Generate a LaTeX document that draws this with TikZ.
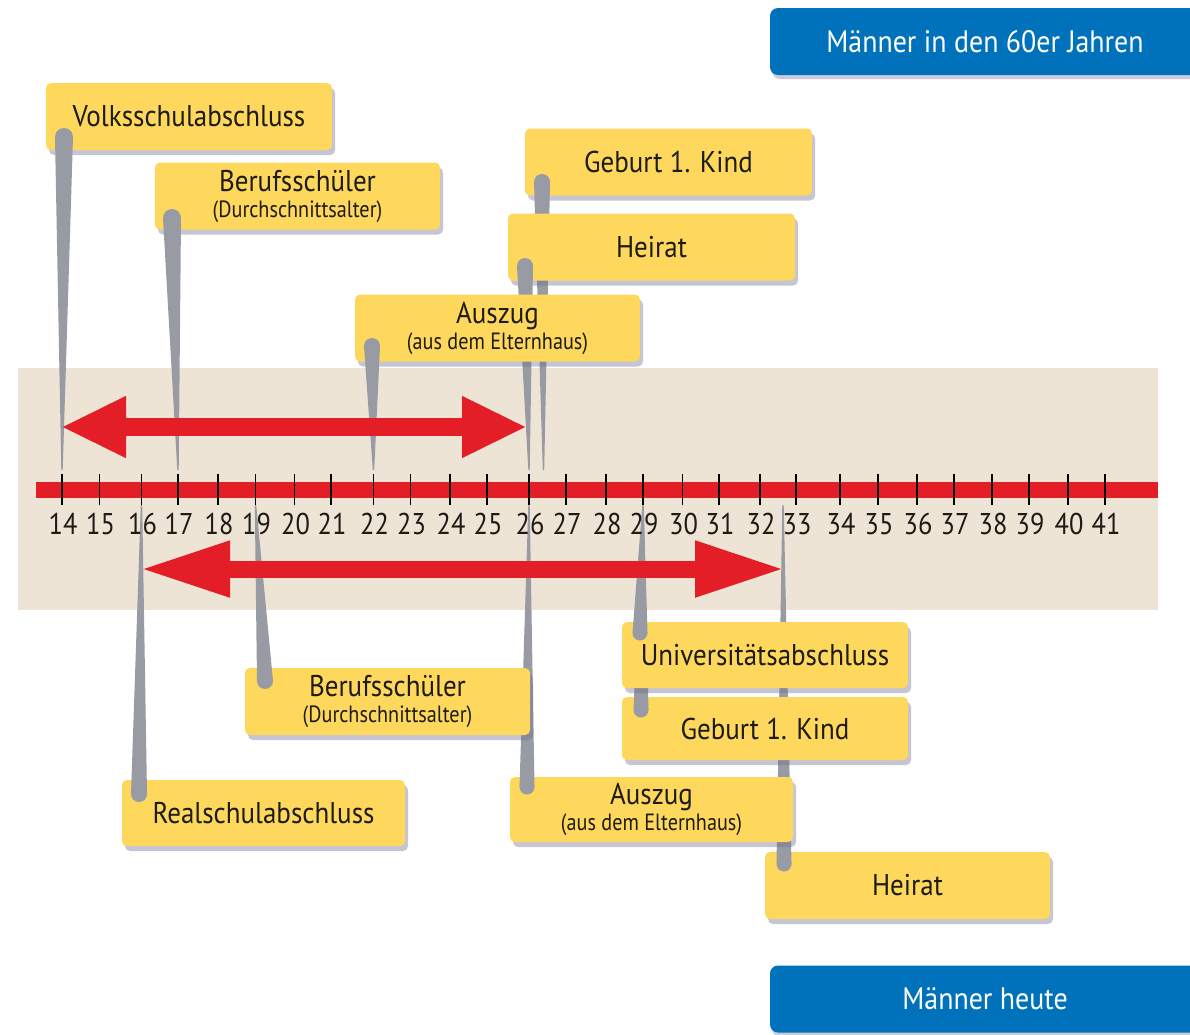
\documentclass[tikz,border=0pt]{standalone}
\usepackage{fontspec}
\setmainfont{PT Sans}[FakeStretch=0.9]
\newfontfamily\subfont{PT Sans}[FakeStretch=0.86]
\newfontfamily\numfont{PT Sans}[FakeStretch=0.88]
\usetikzlibrary{calc,shadows,arrows.meta}
\definecolor{bandc}{RGB}{238,228,213}
\definecolor{axisred}{RGB}{228,30,38}
\definecolor{boxyel}{RGB}{253,216,93}
\definecolor{pinc}{RGB}{152,154,164}
\definecolor{bluehd}{RGB}{0,114,188}
\definecolor{shadowc}{RGB}{110,110,145}
\definecolor{txt}{RGB}{30,27,20}
\newcommand\subfnt{\subfont\fontsize{23.5}{24}\selectfont}
\newcommand\drawpin[3]{\fill[pinc] let \p1=(#1), \p2=(#2) in (\x1-#3pt,\y1) -- (\x2-0.7pt,\y2) -- (\x2+0.7pt,\y2) -- (\x1+#3pt,\y1) -- cycle; \fill[pinc] (#1) circle[radius=#3pt];}
\tikzset{
  ybox/.style={fill=boxyel, rounded corners=5pt, minimum width=285pt, minimum height=67pt,
    inner sep=0pt, align=center, text=txt, font=\fontsize{30}{31}\selectfont,
    drop shadow={shadow xshift=3pt, shadow yshift=-5pt, fill=shadowc, opacity=0.4}},
  bluebox/.style={fill=bluehd, rounded corners=8pt, minimum width=430pt, minimum height=67pt,
    inner sep=0pt, text=white, font=\fontsize{31}{32}\selectfont,
    drop shadow={shadow xshift=2pt, shadow yshift=-4pt, fill=shadowc, opacity=0.35}},
  numlab/.style={inner sep=0pt, text=txt, font=\numfont\fontsize{30}{31}\selectfont},
  tickline/.style={draw=black, line width=1.6pt},
  redarrow/.style={draw=axisred, line width=18pt,
    {Triangle[length=65pt,width=57pt]}-{Triangle[length=65pt,width=57pt]}},
  redarrowlong/.style={draw=axisred, line width=17pt,
    {Triangle[length=90pt,width=52pt]}-{Triangle[length=90pt,width=52pt]}}
}
\begin{document}
\begin{tikzpicture}[x=1pt,y=-1pt]
\useasboundingbox (0,0) rectangle (1190,1034);
\clip (0,0) rectangle (1190,1034);
\fill[white] (0,0) rectangle (1190,1034);
\fill[bandc] (18,368) rectangle (1158,610);

% tick coordinates
\foreach \n/\x in {14/62,15/99.5,16/141.5,17/178,18/218,19/255.5,20/294.5,21/331,22/373.5,23/410.5,24/450,25/487,26/529,27/566,28/606,29/643,30/682.5,31/719,32/760,33/796,34/840,35/878,36/917,37/954,38/992,39/1029,40/1068,41/1105}{
  \coordinate (t\n) at (\x,490);
}

% ---------- upper callouts (Maenner in den 60er Jahren) ----------
\node[ybox, minimum width=286pt] (uvolks) at (189,116.5) {Volksschulabschluss};
\coordinate (uvolksP) at (64,137);
\coordinate (uvolksT) at ($(t14)+(0,-20)$);
\drawpin{uvolksP}{uvolksT}{9}

\node[ybox] (uberuf) at (297.5,196) {Berufsschüler\\[-5pt]{\subfnt (Durchschnittsalter)}};
\coordinate (uberufP) at (172,218);
\coordinate (uberufT) at ($(t17)+(0,-20)$);
\drawpin{uberufP}{uberufT}{9}

\node[ybox, minimum width=287pt] (ugeburt) at (668.5,162) {Geburt 1. Kind};
\coordinate (ugeburtP) at (542,182);
\coordinate (ugeburtT) at (543.5,470);
\drawpin{ugeburtP}{ugeburtT}{8}

\node[ybox, minimum width=287pt] (uheirat) at (651.5,247) {Heirat};
\coordinate (uheiratP) at (525,266);
\coordinate (uheiratT) at ($(t26)+(0,-20)$);
\drawpin{uheiratP}{uheiratT}{8}

\node[ybox] (uauszug) at (497.5,328) {Auszug\\[-5pt]{\subfnt (aus dem Elternhaus)}};
\coordinate (uauszugP) at (372,346);
\coordinate (uauszugT) at ($(t22)+(0,-20)$);
\drawpin{uauszugP}{uauszugT}{8}

% ---------- lower callouts (Maenner heute) ----------
\node[ybox] (lheirat) at (907.5,885.5) {Heirat};
\coordinate (lheiratP) at (784,864);
\coordinate (lheiratT) at (783,505);
\drawpin{lheiratP}{lheiratT}{7.5}

\node[ybox, minimum width=283pt, minimum height=65pt] (lauszug) at (651.5,809.5) {Auszug\\[-5pt]{\subfnt (aus dem Elternhaus)}};
\coordinate (lauszugP) at (527,787);
\coordinate (lauszugT) at ($(t26)+(0,15)$);
\drawpin{lauszugP}{lauszugT}{7.5}

\node[ybox] (lberuf) at (387.5,701.5) {Berufsschüler\\[-5pt]{\subfnt (Durchschnittsalter)}};
\coordinate (lberufP) at (265,681);
\coordinate (lberufT) at ($(t19)+(0,15)$);
\drawpin{lberufP}{lberufT}{8}

\node[ybox, minimum width=286pt, minimum height=63pt] (lgeburt) at (765,728.5) {Geburt 1. Kind};
\coordinate (lgeburtP) at (641,710);
\coordinate (lgeburtT) at ($(t29)+(0,15)$);
\drawpin{lgeburtP}{lgeburtT}{7.5}

\node[ybox, minimum width=286pt, minimum height=66pt] (luni) at (765,655) {Universitätsabschluss};
\coordinate (luniP) at (640,633);
\coordinate (luniT) at ($(t29)+(0,15)$);
\drawpin{luniP}{luniT}{7.5}

\node[ybox, minimum width=283pt, minimum height=66pt] (lreal) at (263.5,813) {Realschulabschluss};
\coordinate (lrealP) at (139,794);
\coordinate (lrealT) at ($(t16)+(0,15)$);
\drawpin{lrealP}{lrealT}{8}

% ---------- axis ----------
\foreach \n in {14,...,41}{
  \node[numlab] (n\n) at ($(t\n)+(1,34)$) {\n};
}
\coordinate (axL) at (36,490);
\coordinate (axR) at (1158,490);
\draw[axisred, line width=16pt] (axL) -- (axR);
\foreach \n in {14,...,41}{
  \draw[tickline] ($(t\n)+(0,-16)$) -- ($(t\n)+(0,15)$);
}

% ---------- arrows ----------
\coordinate (a1L) at (61,427);
\coordinate (a1R) at (527,427);
\draw[redarrow] (a1L) -- (a1R);
\coordinate (a2L) at (140,569);
\coordinate (a2R) at (785,569);
\draw[redarrowlong] (a2L) -- (a2R);

% ---------- headers ----------
\node[bluebox] (h60) at (985,41.5) {Männer in den 60er Jahren};
\node[bluebox] (hheute) at (985,999) {Männer heute};
\end{tikzpicture}
\end{document}
